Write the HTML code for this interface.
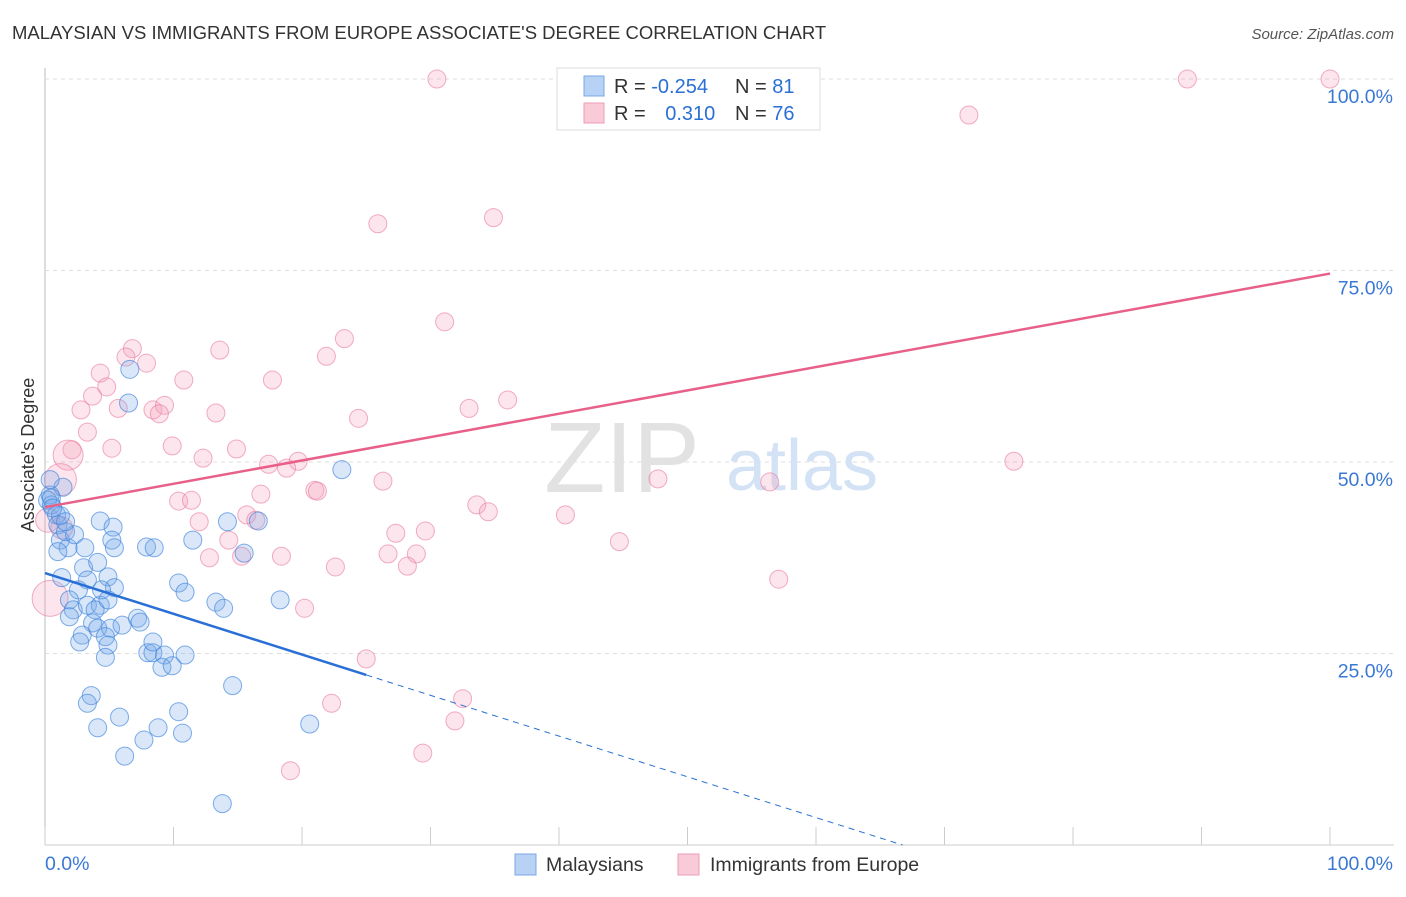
<!DOCTYPE html>
<html><head><meta charset="utf-8"><style>
body{margin:0;background:#fff;font-family:"Liberation Sans",sans-serif;}
svg text{font-family:"Liberation Sans",sans-serif;}
</style></head><body>
<svg id="chart" width="1406" height="892">
<text x="12" y="39" font-size="18.5" fill="#333">MALAYSIAN VS IMMIGRANTS FROM EUROPE ASSOCIATE'S DEGREE CORRELATION CHART</text>
<text x="1394" y="39" font-size="15" fill="#555" font-style="italic" text-anchor="end">Source: ZipAtlas.com</text>
<g id="grid"></g>
<text x="622" y="492" font-size="100" fill="#e2e2e2" font-family="Liberation Serif" text-anchor="middle">ZIP</text>
<text x="802" y="490" font-size="72" fill="#d3e2f5" text-anchor="middle">atlas</text>
<g id="points"></g>
<g id="lines"></g>
<text x="34" y="455" font-size="18" fill="#333" text-anchor="middle" transform="rotate(-90 34 455)">Associate's Degree</text>
<g>
<rect x="557" y="68" width="263" height="62" fill="#fff" stroke="#ddd"/>
<rect x="584" y="76" width="20" height="20" fill="#b7d2f5" stroke="#7aa8e3"/>
<rect x="584" y="103" width="20" height="20" fill="#f9cbd8" stroke="#ee9db6"/>
<text x="614" y="93" font-size="20" fill="#333">R = <tspan fill="#2a6fd6">-0.254</tspan></text>
<text x="735" y="93" font-size="20" fill="#333">N = <tspan fill="#2a6fd6">81</tspan></text>
<text x="614" y="120" font-size="20" fill="#333">R = <tspan fill="#2a6fd6" dx="14">0.310</tspan></text>
<text x="735" y="120" font-size="20" fill="#333">N = <tspan fill="#2a6fd6">76</tspan></text>
</g>
<g>
<rect x="515" y="854" width="21" height="21" fill="#b7d2f5" stroke="#7aa8e3"/>
<text x="546" y="871" font-size="19.5" fill="#333">Malaysians</text>
<rect x="678" y="854" width="21" height="21" fill="#f9cbd8" stroke="#ee9db6"/>
<text x="710" y="871" font-size="19.5" fill="#333">Immigrants from Europe</text>
</g>
</svg>
<script>
const blueX=[0.2,0.4,0.5,0.9,1.0,1.4,0.5,1.2,1.8,1.6,2.3,3.1,4.3,5.3,5.2,5.4,7.9,8.5,3.0,3.3,1.3,4.1,4.9,5.4,2.6,1.9,2.2,3.3,4.3,3.9,1.9,3.7,2.9,4.1,5.1,6.0,7.2,7.4,2.7,4.7,4.9,4.7,8.0,8.4,9.3,10.4,10.9,11.5,14.2,15.5,13.3,13.9,16.6,18.3,8.4,9.1,9.9,10.9,6.6,6.5,23.1,14.6,3.6,3.3,5.8,4.1,8.8,10.4,10.7,7.7,6.2,20.6,13.8,1.2,0.4,0.6,1.6,1.0,4.4,4.9];
const blueY=[45.0,45.7,44.4,43.1,41.8,46.7,45.3,39.8,38.8,40.9,40.5,38.8,42.3,41.5,39.8,38.8,38.9,38.8,36.2,34.6,34.9,36.9,35.0,33.6,33.3,32.0,30.7,31.3,31.3,30.7,29.8,29.0,27.4,28.3,28.3,28.7,29.6,29.1,26.5,27.2,26.1,24.5,25.1,25.1,24.8,34.2,33.0,39.8,42.2,38.1,31.7,30.9,42.3,32.0,26.5,23.2,23.4,24.8,62.1,57.7,49.0,20.8,19.5,18.5,16.7,15.3,15.3,17.4,14.6,13.7,11.6,15.8,5.4,43.0,47.7,44.0,42.2,38.3,33.3,32.0];
const pinkX=[30.5,88.9,100,71.9,25.9,34.9,31.1,23.3,21.9,13.6,6.8,6.3,7.9,4.3,4.8,10.8,17.7,2.8,3.7,5.7,8.4,9.3,8.9,13.3,24.4,33.0,36.0,3.3,2.1,5.2,9.9,14.9,12.3,17.4,19.7,18.8,21.0,21.2,26.3,16.8,10.4,11.4,33.6,34.5,47.7,56.4,75.4,12.0,15.7,16.4,14.3,15.3,12.8,18.4,27.3,29.6,26.7,28.9,28.2,22.6,40.5,44.7,57.1,20.2,25.0,32.5,22.3,31.9,29.4,19.1,1.8,1.2,0.4,0.2,1.3];
const pinkY=[100,100,100,95.3,81.1,81.9,68.3,66.1,63.8,64.6,64.8,63.7,62.9,61.6,59.8,60.7,60.7,56.8,58.6,57.0,56.8,57.4,56.3,56.4,55.7,57.0,58.1,53.9,51.6,51.8,52.1,51.7,50.5,49.7,50.1,49.2,46.3,46.2,47.5,45.8,44.9,45.0,44.4,43.5,47.8,47.4,50.1,42.2,43.1,42.4,39.8,37.7,37.5,37.7,40.7,41.0,38.0,38.0,36.4,36.3,43.1,39.6,34.7,30.9,24.3,19.1,18.5,16.2,12.0,9.7,50.9,47.7,32.2,42.4,41.4];
const pinkSize=[9,9,9,9,9,9,9,9,9,9,9,9,9,9,9,9,9,9,9,9,9,9,9,9,9,9,9,9,9,9,9,9,9,9,9,9,9,9,9,9,9,9,9,9,9,9,9,9,9,9,9,9,9,9,9,9,9,9,9,9,9,9,9,9,9,9,9,9,9,9,15,16,18,12,11];
const yTicks=[25,50,75,100];
const yTickLabels=["25.0%","50.0%","75.0%","100.0%"];
const blueTrend=[35.5,-0.532];
const pinkTrend=[44.1,0.305];
const NS='http://www.w3.org/2000/svg';
const X0=45,X1=1330,Y0=845,Y100=79;
function sx(v){return X0+(X1-X0)*v/100;}
function sy(v){return Y0-(Y0-Y100)*v/100;}
function mk(tag,attrs,parent){const e=document.createElementNS(NS,tag);for(const k in attrs)e.setAttribute(k,attrs[k]);parent.appendChild(e);return e;}
const grid=document.getElementById('grid');
let ax=mk('line',{x1:X0,y1:68,x2:X0,y2:Y0,stroke:'#bbb'},grid);


let bx=mk('line',{x1:X0,y1:Y0,x2:1394,y2:Y0,stroke:'#ccc'},grid);


yTicks.forEach((t,i)=>{
  const g=mk('line',{x1:X0,y1:sy(t),x2:1394,y2:sy(t),stroke:'#ddd','stroke-dasharray':'4,4'},grid);
  
  
  const tx=mk('text',{x:1393,y:sy(t)+24,'font-size':19.5,fill:'#3a78d4','text-anchor':'end'},grid);
  tx.textContent=yTickLabels[i];
  
  
});
for(let i=0;i<=10;i++){
  const t=mk('line',{x1:sx(i*10),y1:827,x2:sx(i*10),y2:Y0,stroke:'#ccc'},grid);
  
  
}
const xl=mk('text',{x:45,y:870,'font-size':19.5,fill:'#3a78d4'},grid);xl.textContent='0.0%';


const xr=mk('text',{x:1393,y:870,'font-size':19.5,fill:'#3a78d4','text-anchor':'end'},grid);xr.textContent='100.0%';


const pts=document.getElementById('points');
pinkX.forEach((x,i)=>{
  const c=mk('circle',{cx:sx(x),cy:sy(pinkY[i]),r:pinkSize[i],fill:'rgba(244,160,188,0.28)',stroke:'rgba(232,120,158,0.6)','stroke-width':1},pts);
  
  
});
blueX.forEach((x,i)=>{
  const c=mk('circle',{cx:sx(x),cy:sy(blueY[i]),r:9,fill:'rgba(120,170,235,0.28)',stroke:'rgba(60,130,220,0.65)','stroke-width':1},pts);
  
  
});
const lines=document.getElementById('lines');
const bEnd=25, bZero=-blueTrend[0]/blueTrend[1];
let l1=mk('line',{x1:sx(0),y1:sy(blueTrend[0]),x2:sx(bEnd),y2:sy(blueTrend[0]+blueTrend[1]*bEnd),stroke:'#2a6fd6','stroke-width':2.5},lines);


let l2=mk('line',{x1:sx(bEnd),y1:sy(blueTrend[0]+blueTrend[1]*bEnd),x2:sx(bZero),y2:sy(0),stroke:'#2a6fd6','stroke-width':1,'stroke-dasharray':'6,5'},lines);


let l3=mk('line',{x1:sx(0),y1:sy(pinkTrend[0]),x2:sx(100),y2:sy(pinkTrend[0]+pinkTrend[1]*100),stroke:'#e8608a','stroke-width':2.5},lines);


</script>
</body></html>
